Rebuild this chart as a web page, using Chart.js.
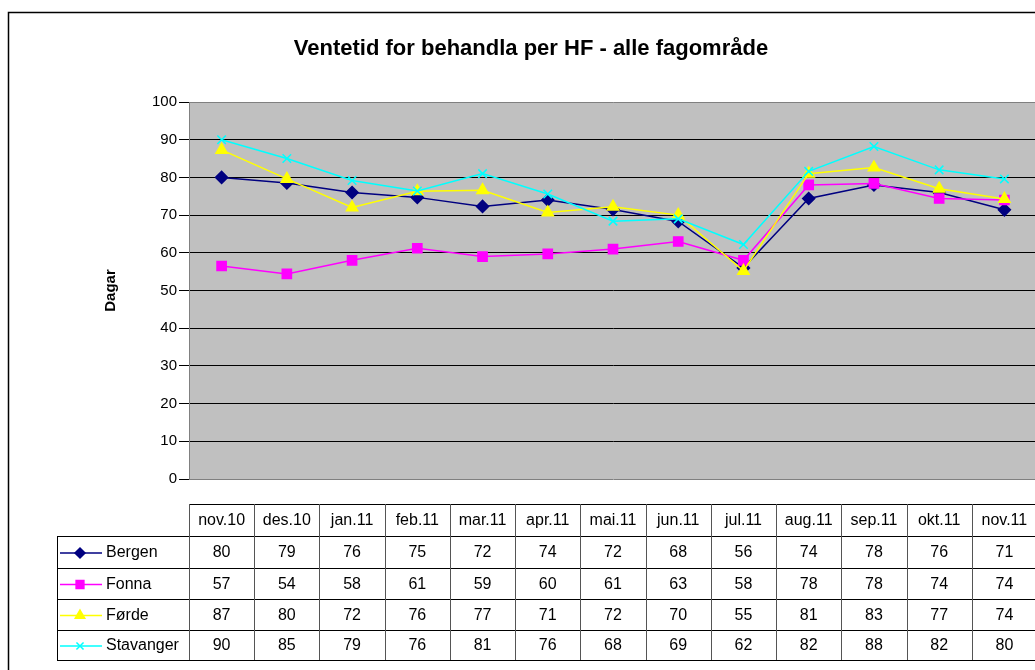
<!DOCTYPE html>
<html>
<head>
<meta charset="utf-8">
<script src="https://cdn.jsdelivr.net/npm/chart.js@4/dist/chart.umd.min.js"></script>
<style>
  html, body { margin: 0; padding: 0; background: #fff; overflow: hidden; }
  #wrap { position: absolute; left: 0; top: 0; width: 1080px; height: 700px; }
</style>
</head>
<body>
<div id="wrap"><canvas id="chart" width="1080" height="700"></canvas></div>
<script>
const months = ["nov.10", "des.10", "jan.11", "feb.11", "mar.11", "apr.11", "mai.11",
                "jun.11", "jul.11", "aug.11", "sep.11", "okt.11", "nov.11"];
const bergen    = [80, 78.5, 76, 74.7, 72.3, 74, 71.5, 68.3, 56, 74.4, 78, 76, 71.4];
const fonna     = [56.5, 54.4, 58, 61.2, 59, 59.7, 61, 63, 58, 78, 78.4, 74.4, 74];
const forde     = [87.3, 79.6, 72, 76.3, 76.6, 70.7, 72.2, 70, 55.2, 81, 82.6, 77, 74.3];
const stavanger = [90, 85, 79.2, 76.4, 81, 75.6, 68.4, 69, 62.2, 81.6, 88.2, 82, 79.6];
const yTicks = { min: 0, max: 100, step: 10 };

const FONT = "'Liberation Sans', Arial, sans-serif";

const series = [
  { label: "Bergen",    data: bergen,    color: "#000080", style: "rectRot",  radius: 6 },
  { label: "Fonna",     data: fonna,     color: "#FF00FF", style: "rect",     radius: 6.5 },
  { label: "Førde",     data: forde,     color: "#FFFF00", style: "triangle", radius: 6.5 },
  { label: "Stavanger", data: stavanger, color: "#00FFFF", style: "crossRot", radius: 6 }
];

// frame, title and the data table under the plot
const extras = {
  id: "extras",
  beforeDraw(chart) {
    const ctx = chart.ctx;
    ctx.save();
    ctx.strokeStyle = "#000";
    ctx.lineWidth = 1.5;
    ctx.strokeRect(8.5, 12.5, 1100, 720);
    ctx.fillStyle = "#000";
    ctx.font = "bold 22px " + FONT;
    ctx.textAlign = "center";
    ctx.textBaseline = "middle";
    ctx.fillText("Ventetid for behandla per HF - alle fagområde", 531, 49);
    ctx.restore();
  },
  afterDraw(chart) {
    const ctx = chart.ctx;
    const x = chart.scales.x;
    const area = chart.chartArea;
    const w = x.getPixelForValue(1) - x.getPixelForValue(0);
    const left = area.left;
    const right = left + months.length * w;
    const legendLeft = 57;
    const rows = [504, 536, 568, 599, 630, 660];

    ctx.save();
    ctx.strokeStyle = "#000";
    ctx.lineWidth = 1;
    // horizontal lines
    rows.forEach((y, i) => {
      ctx.beginPath();
      ctx.moveTo(i === 0 ? left : legendLeft, y + 0.5);
      ctx.lineTo(right, y + 0.5);
      ctx.stroke();
    });
    // vertical lines
    ctx.beginPath();
    ctx.moveTo(legendLeft + 0.5, rows[1]);
    ctx.lineTo(legendLeft + 0.5, rows[5]);
    ctx.stroke();
    ctx.strokeStyle = "#555";
    for (let i = 0; i <= months.length; i++) {
      const vx = Math.round(left + i * w) + 0.5;
      ctx.beginPath();
      ctx.moveTo(vx, rows[0]);
      ctx.lineTo(vx, rows[5]);
      ctx.stroke();
    }

    ctx.fillStyle = "#000";
    ctx.font = "16px " + FONT;
    ctx.textBaseline = "middle";
    ctx.textAlign = "center";
    months.forEach((m, i) => {
      ctx.fillText(m, x.getPixelForValue(i), (rows[0] + rows[1]) / 2 + 1);
    });

    series.forEach((s, r) => {
      const cy = (rows[r + 1] + rows[r + 2]) / 2 + 1;
      ctx.textAlign = "center";
      ctx.fillStyle = "#000";
      s.data.forEach((v, i) => {
        ctx.fillText(String(Math.round(v)), x.getPixelForValue(i), cy);
      });
      // legend key
      ctx.strokeStyle = s.color;
      ctx.lineWidth = 1.5;
      ctx.beginPath();
      ctx.moveTo(60, cy);
      ctx.lineTo(102, cy);
      ctx.stroke();
      ctx.fillStyle = s.color;
      Chart.helpers.drawPoint(ctx, {
        pointStyle: s.style, radius: s.radius - 1, rotation: 0, borderWidth: 1.5
      }, 80, cy);
      ctx.fillStyle = "#000";
      ctx.textAlign = "left";
      ctx.fillText(s.label, 106, cy);
    });
    ctx.restore();
  }
};

const plotBg = {
  id: "plotBg",
  beforeDraw(chart) {
    const a = chart.chartArea;
    chart.ctx.save();
    chart.ctx.fillStyle = "#C0C0C0";
    chart.ctx.fillRect(a.left, a.top, a.right - a.left, a.bottom - a.top);
    chart.ctx.restore();
  }
};

new Chart(document.getElementById("chart"), {
  type: "line",
  data: {
    labels: months,
    datasets: series.map((s, i) => ({
      label: s.label,
      data: s.data,
      borderColor: s.color,
      backgroundColor: s.color,
      pointBackgroundColor: s.color,
      pointBorderColor: s.color,
      pointStyle: s.style,
      pointRadius: s.radius,
      pointBorderWidth: 1.5,
      borderWidth: 1.5,
      tension: 0,
      fill: false,
      order: series.length - i
    }))
  },
  options: {
    responsive: false,
    animation: false,
    events: [],
    layout: { padding: { left: 98, top: 102, right: 43, bottom: 221 } },
    plugins: {
      legend: { display: false },
      title: { display: false },
      tooltip: { enabled: false }
    },
    scales: {
      x: {
        display: false,
        offset: true
      },
      y: {
        min: yTicks.min,
        max: yTicks.max,
        afterFit(scale) { scale.width = 91; },
        border: { color: "#808080", width: 1 },
        grid: {
          color: c => (c.tick.value === 0 || c.tick.value === 100) ? "#808080" : "#000",
          tickLength: 10,
          tickColor: "#000",
          drawTicks: true
        },
        ticks: {
          stepSize: yTicks.step,
          color: "#000",
          padding: 2,
          font: { family: FONT, size: 15 }
        },
        title: {
          display: true,
          text: "Dagar",
          color: "#000",
          font: { family: FONT, size: 15, weight: "bold" }
        }
      }
    }
  },
  plugins: [plotBg, extras]
});
</script>
</body>
</html>
